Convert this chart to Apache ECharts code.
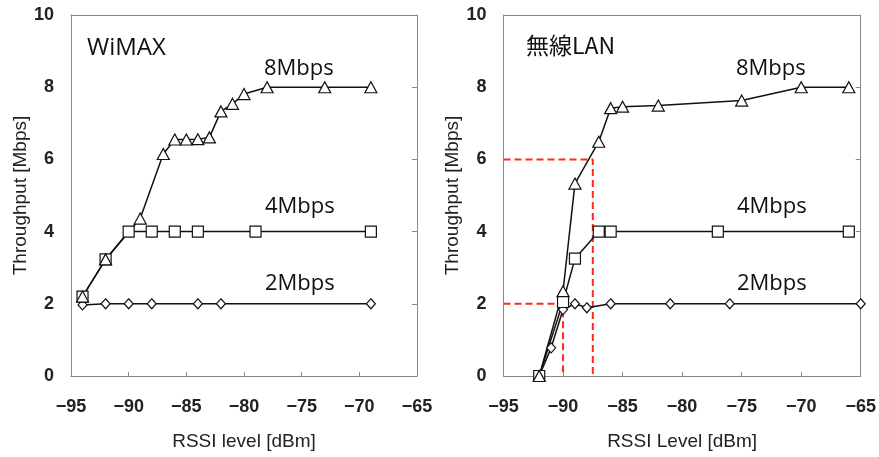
<!DOCTYPE html>
<html><head><meta charset="utf-8">
<script src="https://cdn.jsdelivr.net/npm/echarts@6/dist/echarts.min.js"></script>
<style>html,body{margin:0;padding:0;background:#fff}#c{width:879px;height:457px}</style>
</head><body><div id="c"></div>
<script>
// ---- data ----
const xMin = -95, xMax = -65, xStep = 5;
const yMin = 0, yMax = 10, yStep = 2;

// WiMAX (left)
const wimax8x = [-94, -92, -89, -87, -86, -85, -84, -83, -82, -81, -80, -78, -73, -69];
const wimax8y = [2.2, 3.23, 4.36, 6.15, 6.55, 6.55, 6.56, 6.61, 7.33, 7.54, 7.81, 8.0, 8.0, 8.0];
const wimax4x = [-94, -92, -90, -88, -86, -84, -79, -69];
const wimax4y = [2.2, 3.23, 4.0, 4.0, 4.0, 4.0, 4.0, 4.0];
const wimax2x = [-94, -92, -90, -88, -84, -82, -69];
const wimax2y = [1.97, 2.0, 2.0, 2.0, 2.0, 2.0, 2.0];

// 無線LAN (right)
const lan8x = [-92, -90, -89, -87, -86, -85, -82, -75, -70, -66];
const lan8y = [0, 2.35, 5.33, 6.49, 7.42, 7.46, 7.49, 7.63, 8.0, 8.0];
const lan4x = [-92, -90, -89, -87, -86, -77, -66];
const lan4y = [0, 2.05, 3.25, 4.0, 4.0, 4.0, 4.0];
const lan2x = [-92, -91, -90, -89, -88, -86, -81, -76, -65];
const lan2y = [0, 0.78, 1.84, 2.0, 1.89, 2.0, 2.0, 2.0, 2.0];

// red guide lines (right chart)
const guideAx = [-95, -87.5, -87.5];
const guideAy = [6, 6, 0];
const guideBx = [-95, -90, -90];
const guideBy = [2, 2, 0];

const xTitles = ['RSSI level [dBm]', 'RSSI Level [dBm]'];
const yTitle = 'Throughput [Mbps]';
const panelTitles = ['WiMAX', '無線LAN'];
const rateLabels = ['8Mbps', '4Mbps', '2Mbps'];

// ---- chart ----
const zip = (xs, ys) => xs.map((x, i) => [x, ys[i]]);
const frame = '#8a8a8a';
const tickFont = '"Liberation Sans Narrow", "Liberation Sans", Arial, sans-serif';
const titleFont = '"Liberation Sans", Arial, sans-serif';
const annoFont = '"Open Sans", "Noto Sans", sans-serif';

function xAxisDef(gi, name) {
  return {
    type: 'value', gridIndex: gi, min: xMin, max: xMax, interval: xStep, position: 'bottom',
    name: name, nameLocation: 'middle', nameGap: 56,
    nameTextStyle: { fontFamily: titleFont, fontSize: 19, color: '#222' },
    axisLine: { show: true, onZero: false, lineStyle: { color: frame, width: 1 } },
    axisTick: { show: true, inside: true, length: 4, lineStyle: { color: frame } },
    axisLabel: { margin: 22, fontFamily: tickFont, fontSize: 18, fontWeight: 'bold', color: '#222',
      formatter: v => String(v).replace('-', '\u2212') },
    splitLine: { show: false }
  };
}
function yAxisDef(gi) {
  return {
    type: 'value', gridIndex: gi, min: yMin, max: yMax, interval: yStep, position: 'left',
    name: yTitle, nameLocation: 'middle', nameGap: 38, nameRotate: 90,
    nameTextStyle: { fontFamily: titleFont, fontSize: 19, color: '#222' },
    axisLine: { show: true, onZero: false, lineStyle: { color: frame, width: 1 } },
    axisTick: { show: false },
    axisLabel: { margin: 17, fontFamily: tickFont, fontSize: 18, fontWeight: 'bold', color: '#222' },
    splitLine: { show: false }
  };
}
function yAxisRight(gi) {
  return {
    type: 'value', gridIndex: gi, min: yMin, max: yMax, interval: yStep, position: 'right',
    axisLine: { show: true, onZero: false, lineStyle: { color: frame, width: 1 } },
    axisTick: { show: true, inside: true, length: 5, lineStyle: { color: frame } },
    axisLabel: { show: false }, splitLine: { show: false }
  };
}
function xAxisTop(gi) {
  return {
    type: 'value', gridIndex: gi, min: xMin, max: xMax, interval: xStep, position: 'top',
    axisLine: { show: true, onZero: false, lineStyle: { color: frame, width: 1 } },
    axisTick: { show: false }, axisLabel: { show: false }, splitLine: { show: false }
  };
}
function dataSeries(xi, yi, xs, ys, symbol, size) {
  return {
    type: 'line', xAxisIndex: xi, yAxisIndex: yi, data: zip(xs, ys),
    symbol: symbol, symbolSize: size, showSymbol: true, clip: false,
    lineStyle: { color: '#111', width: 1.5 },
    itemStyle: { color: '#fff', borderColor: '#111', borderWidth: 1.2 },
    animation: false, z: 3
  };
}
function guideSeries(xi, yi, xs, ys) {
  return {
    type: 'line', xAxisIndex: xi, yAxisIndex: yi, data: zip(xs, ys),
    symbol: 'none', clip: false,
    lineStyle: { color: '#ff2a1a', width: 2, type: [7, 4] },
    animation: false, z: 2
  };
}
function txt(x, y, text, size, family) {
  return { type: 'text', x: x, y: y, z: 10,
    style: { text: text, fill: '#111', font: size + 'px ' + family,
      fontSize: size, fontFamily: family,
      align: 'left', verticalAlign: 'middle', textAlign: 'left', textVerticalAlign: 'middle' } };
}

const chart = echarts.init(document.getElementById('c'), null, { renderer: 'canvas' });
chart.setOption({
  animation: false,
  backgroundColor: '#fff',
  grid: [
    { left: 71, top: 15, width: 346, height: 361 },
    { left: 503.5, top: 15, width: 357.5, height: 361 }
  ],
  xAxis: [xAxisDef(0, xTitles[0]), xAxisDef(1, xTitles[1]), xAxisTop(0), xAxisTop(1)],
  yAxis: [yAxisDef(0), yAxisDef(1), yAxisRight(0), yAxisRight(1)],
  series: [
    dataSeries(0, 0, wimax2x, wimax2y, 'diamond', [9, 10]),
    dataSeries(0, 0, wimax4x, wimax4y, 'rect', [11, 11]),
    dataSeries(0, 0, wimax8x, wimax8y, 'triangle', [12, 11]),
    guideSeries(1, 1, guideAx, guideAy),
    guideSeries(1, 1, guideBx, guideBy),
    dataSeries(1, 1, lan2x, lan2y, 'diamond', [9, 10]),
    dataSeries(1, 1, lan4x, lan4y, 'rect', [11, 11]),
    dataSeries(1, 1, lan8x, lan8y, 'triangle', [12, 11])
  ],
  graphic: [
    txt(87, 48, panelTitles[0], 24, annoFont),
    txt(264, 69, rateLabels[0], 22, annoFont),
    txt(265, 207, rateLabels[1], 22, annoFont),
    txt(265, 284, rateLabels[2], 22, annoFont),
    txt(526, 45, panelTitles[1], 23, '"Noto Sans CJK JP", sans-serif'),
    txt(736, 69, rateLabels[0], 22, annoFont),
    txt(737, 207, rateLabels[1], 22, annoFont),
    txt(737, 284, rateLabels[2], 22, annoFont)
  ]
});
</script>
</body></html>
